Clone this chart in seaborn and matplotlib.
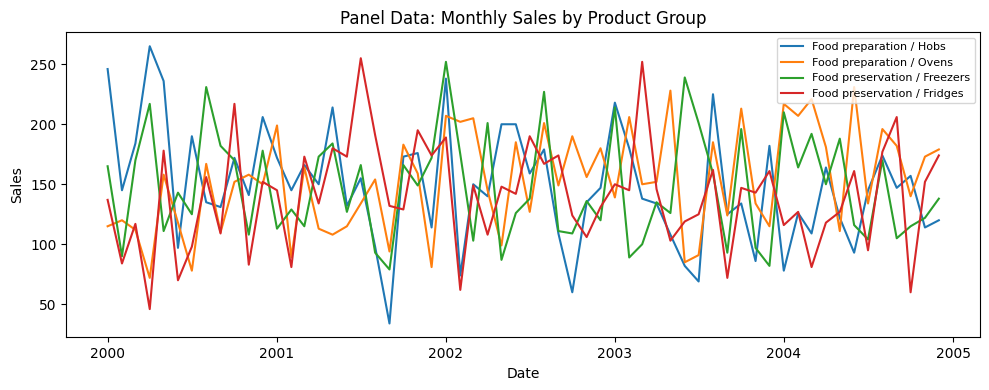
import pandas as pd
import matplotlib
matplotlib.use("Agg")
import matplotlib.pyplot as plt
import seaborn as sns

# ---------------------------------------------------------------------
# Data: monthly sales per product group, Jan 2000 - Dec 2004
# ---------------------------------------------------------------------
dates = pd.date_range("2000-01-01", periods=60, freq="MS")

hobs = [246, 145, 184, 265, 236, 97, 190, 135, 131, 172,
        141, 206, 172, 145, 166, 150, 214, 132, 155, 98,
        34, 173, 176, 114, 238, 74, 150, 140, 200, 200,
        159, 179, 109, 60, 135, 147, 218, 180, 138, 134,
        108, 82, 69, 225, 125, 134, 86, 182, 78, 126,
        109, 164, 122, 93, 145, 174, 147, 157, 114, 120]

ovens = [115, 120, 112, 72, 158, 118, 78, 167, 110, 152,
         158, 150, 199, 89, 164, 113, 108, 115, 134, 154,
         94, 183, 159, 81, 207, 202, 205, 145, 99, 185,
         127, 201, 149, 190, 156, 180, 139, 206, 150, 152,
         228, 85, 91, 185, 124, 213, 134, 115, 217, 207,
         221, 181, 111, 231, 134, 196, 182, 140, 173, 179]

freezers = [165, 90, 170, 217, 111, 143, 125, 231, 182, 170,
            108, 178, 113, 129, 115, 173, 184, 127, 166, 93,
            79, 166, 149, 172, 252, 175, 103, 201, 87, 126,
            138, 227, 111, 109, 136, 120, 214, 89, 100, 135,
            126, 239, 201, 159, 93, 196, 97, 82, 210, 164,
            192, 150, 188, 116, 104, 170, 105, 115, 122, 138]

fridges = [137, 84, 117, 46, 178, 70, 98, 156, 109, 217,
           83, 152, 145, 81, 173, 134, 180, 173, 255, 191,
           132, 129, 195, 174, 189, 62, 149, 108, 148, 142,
           190, 167, 174, 124, 106, 131, 150, 145, 252, 146,
           103, 119, 125, 162, 72, 147, 143, 161, 116, 127,
           81, 118, 127, 161, 95, 177, 206, 60, 152, 174]

groups = ["Food preparation / Hobs", "Food preparation / Ovens",
          "Food preservation / Freezers", "Food preservation / Fridges"]

# long format for seaborn
df = pd.concat([
    pd.DataFrame({"Date": dates, "Sales": vals, "Group": name})
    for name, vals in zip(groups, [hobs, ovens, freezers, fridges])
], ignore_index=True)

# ---------------------------------------------------------------------
# Plot
# ---------------------------------------------------------------------
fig, ax = plt.subplots(figsize=(9.89, 3.9), dpi=100)
sns.lineplot(data=df, x="Date", y="Sales", hue="Group",
             palette="tab10", linewidth=1.5, ax=ax)
ax.set_title("Panel Data: Monthly Sales by Product Group")
ax.set_xlabel("Date")
ax.set_ylabel("Sales")
handles, labels = ax.get_legend_handles_labels()
ax.legend(handles, labels, loc="upper right", fontsize=8)
fig.subplots_adjust(left=0.0668, right=0.9913, top=0.917, bottom=0.135)
plt.savefig("out.png", dpi=100)
